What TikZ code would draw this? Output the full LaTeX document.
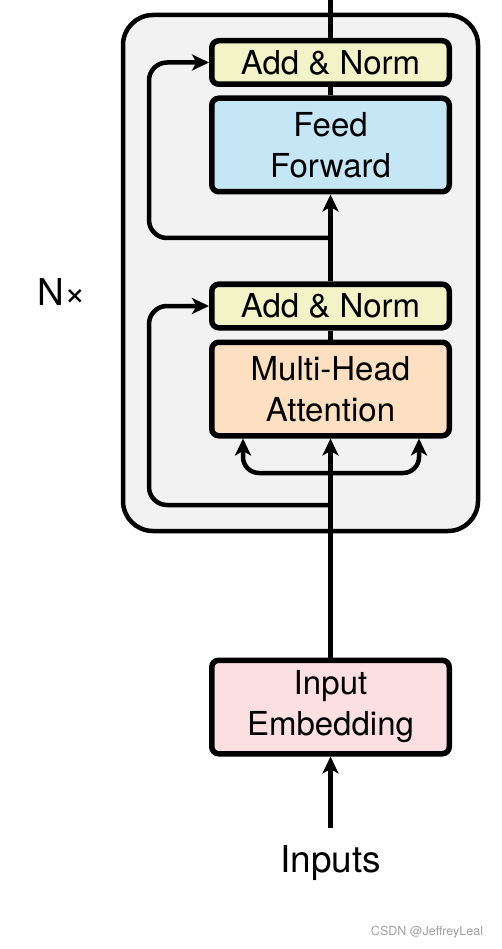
\documentclass[tikz,border=0pt]{standalone}
\usepackage{fontspec}
\setmainfont{TeX Gyre Heros}
\usetikzlibrary{arrows.meta}
\definecolor{blockgray}{RGB}{242,242,242}
\definecolor{normyellow}{RGB}{242,243,198}
\definecolor{ffblue}{RGB}{197,230,245}
\definecolor{mhapeach}{RGB}{252,224,193}
\definecolor{embpink}{RGB}{252,224,225}
\definecolor{wmgray}{RGB}{160,160,160}
\tikzset{
  box/.style={draw=black, line width=5.5pt, rounded corners=7pt, minimum width=237.5pt,
    align=center, inner sep=0pt, font=\fontsize{33}{41}\selectfont},
  normbox/.style={box, fill=normyellow, minimum height=43.5pt},
  bigbox/.style={box, minimum height=93.5pt},
  conn/.style={line width=4.5pt, draw=black},
  arr/.style={conn, -{Stealth[length=17pt, width=16pt, inset=4.5pt]}},
}
\begin{document}
\begin{tikzpicture}[x=1pt,y=-1pt]
\useasboundingbox (0,0) rectangle (501,949);
% outer block
\node[draw=black, line width=4.5pt, fill=blockgray, rounded corners=30pt,
  minimum width=355pt, minimum height=516pt, inner sep=0pt] (block) at (300.5,273) {};
% nodes
\node[normbox] (an2) at (330.5,62.5) {Add \& Norm};
\node[bigbox, fill=ffblue] (ff) at (330.5,145) {Feed\\Forward};
\node[normbox] (an1) at (330.5,306) {Add \& Norm};
\node[bigbox, fill=mhapeach] (mha) at (330.5,389) {Multi-Head\\Attention};
\node[bigbox, fill=embpink] (emb) at (330.5,707) {Input\\Embedding};
\node[font=\fontsize{37}{44}\selectfont] (inputs) at (330.5,863) {Inputs};
\node[font=\fontsize{37}{44}\selectfont] (nx) at (62,292) {N×};
\node[font=\fontsize{12.5}{15}\selectfont, text=wmgray] (wm) at (427,932) {CSDN @JeffreyLeal};
% coordinates
\coordinate (top) at (330.5,0);
\coordinate (b2) at (330.5,238);
\coordinate (b1) at (330.5,505);
\coordinate (fk) at (330.5,473);
\coordinate (inb) at (330.5,828);
% connectors
\draw[conn] (an2.north) -- (top);
\draw[conn] (ff.north) -- (an2.south);
\draw[arr] (an1.north) -- (ff.south);
\draw[conn] (mha.north) -- (an1.south);
\draw[arr] (emb.north) -- (mha.south);
\draw[arr] (inb) -- (emb.south);
\draw[arr, rounded corners=18pt] (b2) -- (149,238) -- (149,62.5) -- (an2.west);
\draw[arr, rounded corners=18pt] (b1) -- (149,505) -- (149,306) -- (an1.west);
\draw[arr, rounded corners=16pt] (fk) -- (243,473) -- (mha.south -| 243,0);
\draw[arr, rounded corners=16pt] (fk) -- (419,473) -- (mha.south -| 419,0);
\end{tikzpicture}
\end{document}
